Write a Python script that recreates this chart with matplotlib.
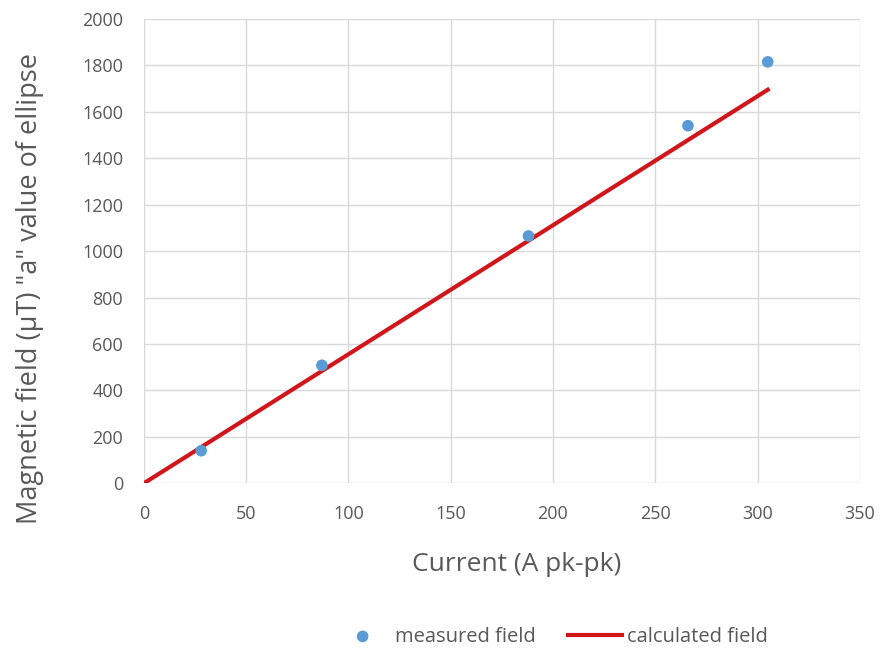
import matplotlib
matplotlib.use('Agg')
import matplotlib.pyplot as plt

current = [28, 87, 188, 266, 305]
measured = [140, 508, 1065, 1540, 1815]
calc_x = [0, 305]
calc_y = [0, 1695]

plt.rcParams['font.family'] = ['Open Sans', 'DejaVu Sans']

fig = plt.figure(figsize=(8.8, 6.53), dpi=100)
ax = fig.add_axes([0.1636, 0.260, 0.8134, 0.711])

line, = ax.plot(calc_x, calc_y, color='#d0161b', lw=3, zorder=2)
pts = ax.scatter(current, measured, s=70, color='#5b9bd5', zorder=3, edgecolors='none')

ax.set_xlim(0, 350)
ax.set_ylim(0, 2000)
ax.set_xticks(range(0, 351, 50))
ax.set_yticks(range(0, 2001, 200))
ax.grid(True, color='#d9d9d9', lw=1)
ax.set_axisbelow(True)
for s in ax.spines.values():
    s.set_visible(False)
ax.tick_params(length=0, labelsize=13, colors='#595959')
ax.tick_params(axis='y', pad=15)
ax.tick_params(axis='x', pad=16)

ax.set_xlabel('Current (A pk-pk)', fontsize=19, color='#595959')
ax.set_ylabel('Magnetic field (µT) "a" value of ellipse', fontsize=19.5, color='#595959')
ax.xaxis.set_label_coords(0.52, -0.148)
ax.yaxis.set_label_coords(-0.14, 0.42)

fig.legend([pts, line], ['measured field', 'calculated field'], loc='center',
           bbox_to_anchor=(0.627, 0.025), ncol=2, frameon=False, fontsize=14.5,
           labelcolor='#595959', handlelength=2.7, handletextpad=0.25, columnspacing=1.6)

fig.savefig('out.png', dpi=100)
